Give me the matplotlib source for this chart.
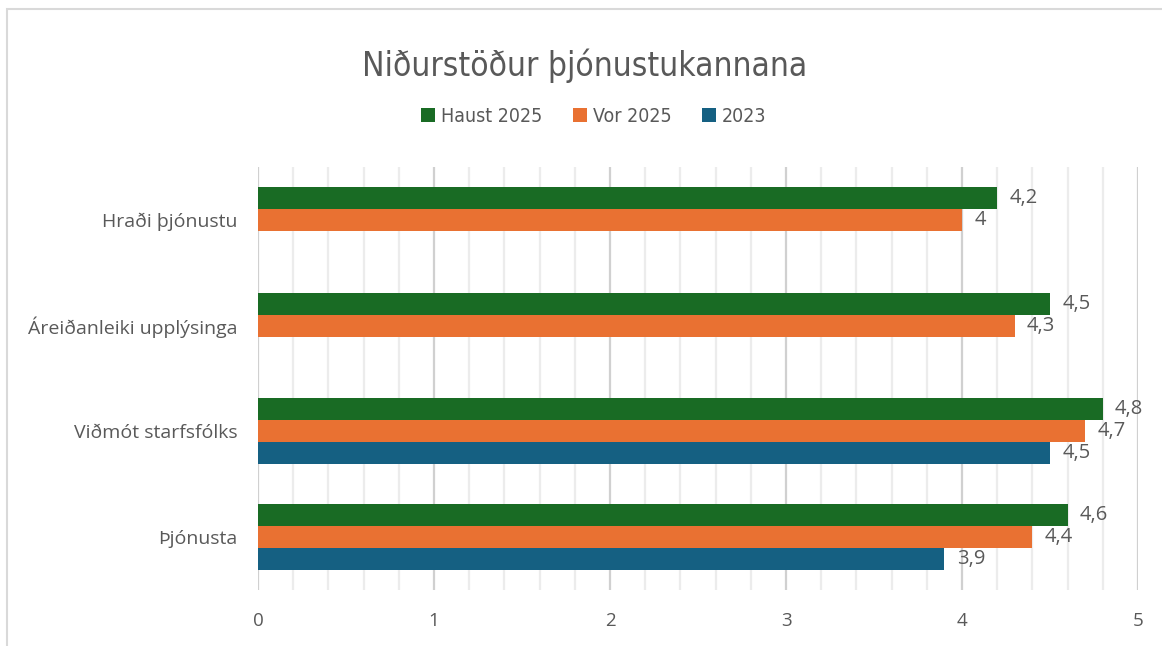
import matplotlib
matplotlib.use("Agg")
import matplotlib.pyplot as plt
from matplotlib.patches import Rectangle
from matplotlib.ticker import MultipleLocator
import numpy as np

# survey results
categories = ["Hraði þjónustu", "Áreiðanleiki upplýsinga", "Viðmót starfsfólks", "Þjónusta"]
haust_2025 = [4.2, 4.5, 4.8, 4.6]
vor_2025 = [4.0, 4.3, 4.7, 4.4]
ar_2023 = [None, None, 4.5, 3.9]
series_names = ["Haust 2025", "Vor 2025", "2023"]
series_colors = ["#196B24", "#E97132", "#156082"]
x_ticks = [0, 1, 2, 3, 4, 5]

txt = "#595959"
body = ["Open Sans", "DejaVu Sans"]

fig = plt.figure(figsize=(11.62, 6.46), dpi=100)
ax = fig.add_axes([258 / 1162, 56 / 646, 880 / 1162, 423 / 646])

# light frame round the chart
fig.patches.append(Rectangle((7 / 1162, -0.1), 1.2, 1.1 - 9 / 646,
                             transform=fig.transFigure, fill=False,
                             edgecolor="#d9d9d9", linewidth=1.5))

h = 0.208
y = np.arange(len(categories))
all_series = [haust_2025, vor_2025, ar_2023]
for k, (vals, name, col) in enumerate(zip(all_series, series_names, series_colors)):
    off = (k - 1) * h
    for i, v in enumerate(vals):
        if v is None:
            continue
        ax.barh(y[i] + off, v, height=h, color=col,
                label=name if i == len(vals) - 1 else None, zorder=3)
        lab = ("%g" % v).replace(".", ",")
        ax.text(v + 0.07, y[i] + off, lab, va="center", ha="left",
                fontsize=14.5, color=txt, family=body)

ax.set_ylim(3.5, -0.5)
ax.set_xlim(0, 5)
ax.set_yticks(y)
ax.set_yticklabels(categories, family=body, fontsize=14, color=txt)
ax.set_xticks(x_ticks)
ax.set_xticklabels([str(t) for t in x_ticks], family=body, fontsize=13.5, color=txt)
ax.xaxis.set_minor_locator(MultipleLocator(0.2))
ax.grid(axis="x", which="major", color="#d0d0d0", linewidth=1.6, zorder=0)
ax.grid(axis="x", which="minor", color="#ececec", linewidth=1.6, zorder=0)
ax.tick_params(axis="both", which="both", length=0)
ax.tick_params(axis="x", pad=16)
ax.tick_params(axis="y", pad=15)
for s in ax.spines.values():
    s.set_visible(False)

fig.text(0.503, 1 - 66 / 646, "Niðurstöður þjónustukannana", ha="center", va="center",
         fontsize=24, color=txt, family="DejaVu Sans", fontstretch="condensed")

handles, labels = ax.get_legend_handles_labels()
fig.legend(handles, labels, loc="center", bbox_to_anchor=(0.511, 1 - 116 / 646),
           ncol=3, frameon=False,
           prop={"family": "DejaVu Sans", "size": 14, "stretch": "condensed"},
           labelcolor=txt, handlelength=0.7, handleheight=0.7,
           handletextpad=0.3, columnspacing=1.6)

fig.savefig("out.png", dpi=100)
